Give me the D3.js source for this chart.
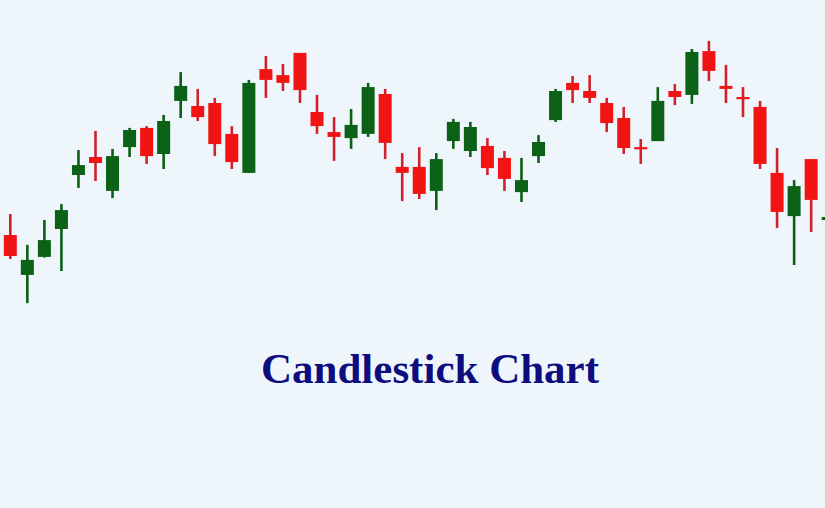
<!DOCTYPE html>
<html>
<head>
<meta charset="utf-8">
<script src="https://cdn.jsdelivr.net/npm/d3@7"></script>
<style>
    html, body { margin: 0; padding: 0; background: #eef6fc; }
    svg { display: block; }
</style>
</head>
<body>
<div id="chart"></div>
<script>
// --- Data (arbitrary price units) ---
const days = d3.range(1, 50).map(d => 'D' + d);
const opens  = [25.0, 11.7, 17.7, 27.0, 45.0, 51.0, 39.7, 54.3, 60.7, 52.0, 69.7, 68.0, 69.0, 58.7, 45.7, 80.3, 78.3, 85.7, 66.0, 59.3, 57.3, 58.7, 72.0, 47.7, 47.7, 39.7, 56.3, 53.0, 54.7, 50.7, 39.3, 51.3, 63.3, 75.7, 73.0, 69.0, 64.0, 54.3, 56.3, 73.0, 71.7, 86.3, 74.7, 71.0, 67.7, 45.7, 31.3, 50.3, 30.0];
const highs  = [32.0, 21.7, 30.0, 35.3, 53.3, 59.7, 53.7, 60.7, 61.3, 65.0, 79.3, 73.7, 70.7, 61.3, 76.7, 84.7, 82.0, 85.7, 71.7, 64.3, 67.0, 75.7, 73.7, 52.3, 54.3, 52.3, 63.7, 62.7, 57.3, 53.0, 50.7, 58.3, 73.7, 78.0, 78.3, 70.7, 67.7, 57.0, 74.3, 75.3, 87.0, 89.7, 81.7, 74.3, 69.7, 54.0, 43.3, 50.3, 31.3];
const lows   = [17.0, 2.3, 17.5, 13.0, 40.7, 43.0, 37.3, 51.0, 48.7, 47.0, 64.0, 63.0, 51.3, 47.0, 45.7, 70.7, 73.0, 69.0, 58.7, 49.7, 53.7, 57.7, 50.3, 36.3, 37.0, 33.3, 53.7, 51.0, 45.0, 39.7, 36.0, 49.0, 62.7, 69.0, 69.0, 59.3, 52.0, 48.7, 56.3, 68.3, 68.7, 76.3, 69.0, 64.3, 47.0, 27.3, 15.0, 26.0, 29.7];
const closes = [18.0, 16.7, 23.3, 33.3, 48.3, 49.0, 51.3, 60.0, 51.3, 63.0, 74.7, 64.3, 55.3, 49.3, 75.7, 76.7, 75.7, 73.3, 61.3, 57.7, 61.7, 74.3, 55.7, 45.7, 38.7, 50.3, 62.7, 61.0, 47.3, 43.7, 43.3, 56.0, 73.0, 73.3, 70.7, 62.3, 54.0, 53.7, 69.7, 71.0, 86.0, 79.7, 73.7, 70.3, 48.7, 32.7, 41.3, 36.7, 31.0];
const title = 'Candlestick Chart';

const width = 825;
const height = 508;
const bodyWidth = 13;

const candles = days.map((d, i) => ({
    day: d, open: opens[i], high: highs[i], low: lows[i], close: closes[i]
}));

const svg = d3.select('#chart').append('svg')
    .attr('width', width)
    .attr('height', height);

svg.append('rect')
    .attr('width', width)
    .attr('height', height)
    .attr('fill', '#eef6fc');

const x = d3.scalePoint().domain(days).range([10.3, 828.2]);
const y = d3.scaleLinear().domain([0, 100]).range([310, 10]);

const up = d => d.close >= d.open;

const g = svg.selectAll('.candle')
    .data(candles)
    .enter().append('g')
    .attr('class', 'candle')
    .attr('transform', d => `translate(${x(d.day)},0)`);

// wicks
g.append('line')
    .attr('y1', d => y(d.high))
    .attr('y2', d => y(d.low))
    .attr('stroke', d => up(d) ? '#0b5f15' : '#d0222c')
    .attr('stroke-width', 2.6);

// bodies
g.append('rect')
    .attr('x', -bodyWidth / 2)
    .attr('width', bodyWidth)
    .attr('y', d => y(Math.max(d.open, d.close)))
    .attr('height', d => Math.max(2.2, Math.abs(y(d.open) - y(d.close))))
    .attr('fill', d => up(d) ? '#0b6116' : '#f21313');

svg.append('text')
    .attr('x', 430)
    .attr('y', 383)
    .attr('text-anchor', 'middle')
    .attr('font-family', '"Liberation Serif", "Times New Roman", serif')
    .attr('font-weight', 'bold')
    .attr('font-size', '43px')
    .attr('fill', '#0d0d7e')
    .text(title);
</script>
</body>
</html>
